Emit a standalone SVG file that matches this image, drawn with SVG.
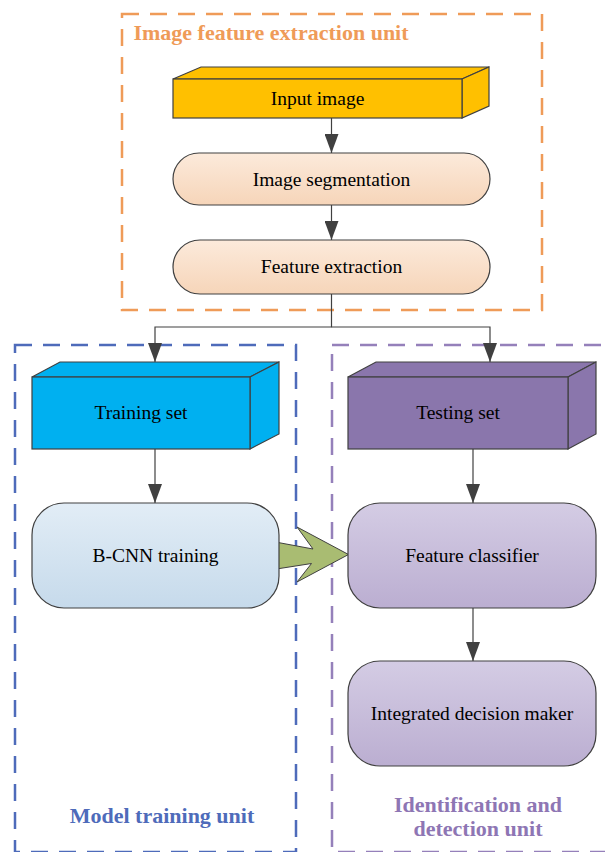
<svg xmlns="http://www.w3.org/2000/svg" width="605" height="852" viewBox="0 0 605 852">
<style>
.lbl{font-family:"Liberation Serif","Times New Roman",Times,"DejaVu Serif",serif;font-size:19.5px;fill:#000;text-anchor:middle}
.ttl{font-family:"Liberation Serif","Times New Roman",Times,"DejaVu Serif",serif;font-size:22px;font-weight:bold;text-anchor:middle}
.edge{stroke:#404040;stroke-width:1.2;fill:none}
.box{stroke:#404040;stroke-width:1.2}
.dash{fill:none;stroke-width:2.5;stroke-dasharray:17 11}
</style>
<defs>
<marker id="ah" markerUnits="userSpaceOnUse" markerWidth="19" markerHeight="14" refX="19" refY="7" orient="auto">
<path d="M0,0 L19,7 L0,14 Z" fill="#404040"/>
</marker>
<linearGradient id="gPeach" x1="0" y1="0" x2="0" y2="1">
<stop offset="0" stop-color="#FCEADB"/><stop offset="1" stop-color="#F6D5B9"/>
</linearGradient>
<linearGradient id="gBlue" x1="0" y1="0" x2="0" y2="1">
<stop offset="0" stop-color="#E2EDF6"/><stop offset="1" stop-color="#C6DAEB"/>
</linearGradient>
<linearGradient id="gPurple" x1="0" y1="0" x2="0" y2="1">
<stop offset="0" stop-color="#D4CCE4"/><stop offset="1" stop-color="#BBAED1"/>
</linearGradient>
</defs>

<g id="unit-extraction">
<rect class="dash" x="122" y="14" width="420" height="296" stroke="#EF9B58"/>
<text class="ttl" x="271" y="40" fill="#EF9B58" font-family="Liberation Serif, serif">Image feature extraction unit</text>
</g>
<g id="unit-training">
<rect class="dash" x="15" y="345" width="281" height="507" stroke="#4E6BBA"/>
<text class="ttl" x="162" y="823" fill="#4E6BBA" font-family="Liberation Serif, serif">Model training unit</text>
</g>
<g id="unit-detection">
<rect class="dash" x="332" y="345" width="290" height="507" stroke="#9580BA"/>
<text class="ttl" x="478" y="812" fill="#8E76B4" font-family="Liberation Serif, serif">Identification and</text>
<text class="ttl" x="478" y="836" fill="#8E76B4" font-family="Liberation Serif, serif">detection unit</text>
</g>

<g id="connectors">
<line class="edge" x1="331.5" y1="118" x2="331.5" y2="153" marker-end="url(#ah)"/>
<line class="edge" x1="331.5" y1="205" x2="331.5" y2="240" marker-end="url(#ah)"/>
<polyline class="edge" points="331.5,294 331.5,327 155,327 155,362" marker-end="url(#ah)"/>
<polyline class="edge" points="331.5,327 490,327 490,362" marker-end="url(#ah)"/>
<line class="edge" x1="155" y1="449" x2="155" y2="503" marker-end="url(#ah)"/>
<line class="edge" x1="473" y1="449" x2="473" y2="503" marker-end="url(#ah)"/>
<line class="edge" x1="473" y1="608" x2="473" y2="661" marker-end="url(#ah)"/>
<polygon id="transfer-arrow" points="270,541 313,549 297,527 348.5,554.5 297,582 311.5,563.5 270,570" fill="#A9BC72" stroke="#404040" stroke-width="1"/>
</g>

<g id="input-image">
<polygon class="box" points="173,79 201,67 489,67 462,79" fill="#FFC000"/>
<polygon class="box" points="462,79 489,67 489,106 462,118" fill="#FFC000"/>
<rect class="box" x="173" y="79" width="289" height="39" fill="#FFC000"/>
<text class="lbl" x="317.5" y="105" font-family="Liberation Serif, serif">Input image</text>
</g>
<g id="image-segmentation">
<rect class="box" x="173" y="153" width="317" height="52" rx="26" fill="url(#gPeach)"/>
<text class="lbl" x="331.5" y="185.5" font-family="Liberation Serif, serif">Image segmentation</text>
</g>
<g id="feature-extraction">
<rect class="box" x="173" y="240" width="317" height="54" rx="27" fill="url(#gPeach)"/>
<text class="lbl" x="331.5" y="273" font-family="Liberation Serif, serif">Feature extraction</text>
</g>
<g id="training-set">
<polygon class="box" points="32,377 60,362 279,362 250,377" fill="#00B0F0"/>
<polygon class="box" points="250,377 279,362 279,434 250,449" fill="#00B0F0"/>
<rect class="box" x="32" y="377" width="218" height="72" fill="#00B0F0"/>
<text class="lbl" x="141" y="419" font-family="Liberation Serif, serif">Training set</text>
</g>
<g id="testing-set">
<polygon class="box" points="348,377 376,362 596,362 568,377" fill="#8A76AC"/>
<polygon class="box" points="568,377 596,362 596,434 568,449" fill="#8A76AC"/>
<rect class="box" x="348" y="377" width="220" height="72" fill="#8A76AC"/>
<text class="lbl" x="458" y="419" font-family="Liberation Serif, serif">Testing set</text>
</g>
<g id="bcnn-training">
<rect class="box" x="32" y="503" width="247" height="105" rx="32" fill="url(#gBlue)"/>
<text class="lbl" x="155.5" y="562" font-family="Liberation Serif, serif">B-CNN training</text>
</g>
<g id="feature-classifier">
<rect class="box" x="348" y="503" width="248" height="105" rx="32" fill="url(#gPurple)"/>
<text class="lbl" x="472" y="562" font-family="Liberation Serif, serif">Feature classifier</text>
</g>
<g id="integrated-decision-maker">
<rect class="box" x="348" y="661" width="248" height="105" rx="32" fill="url(#gPurple)"/>
<text class="lbl" x="472" y="720" font-family="Liberation Serif, serif">Integrated decision maker</text>
</g>
</svg>
